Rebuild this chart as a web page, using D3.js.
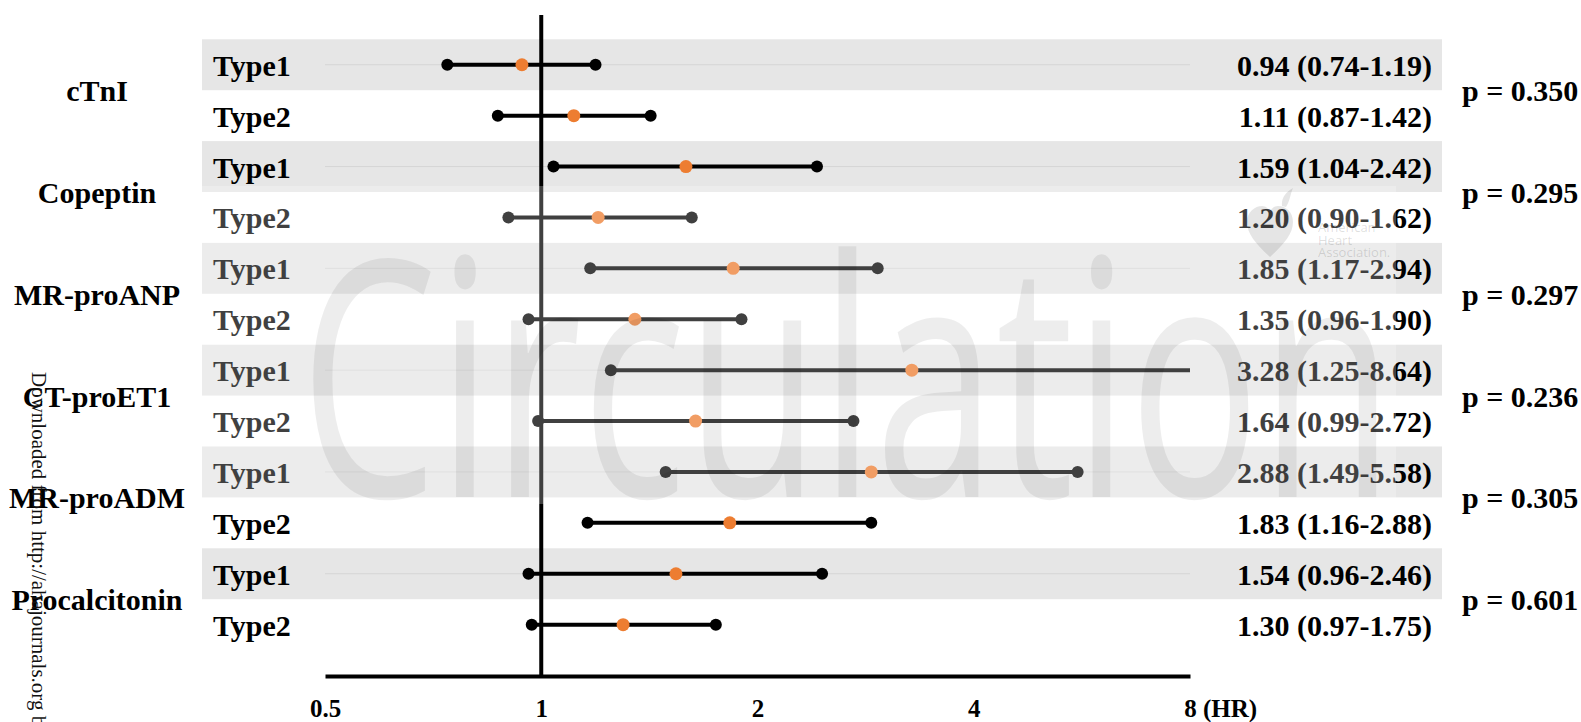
<!DOCTYPE html>
<html>
<head>
<meta charset="utf-8">
<script src="https://cdn.jsdelivr.net/npm/d3@7"></script>
<style>
  html, body { margin: 0; padding: 0; background: #fff; }
  svg { display: block; }
</style>
</head>
<body>
<svg id="chart" width="1581" height="722"></svg>
<script>
// Biomarkers, hazard ratios (95% CI) for Type 1 and Type 2, and interaction p values
const categories = ["cTnI", "Copeptin", "MR-proANP", "CT-proET1", "MR-proADM", "Procalcitonin"];
const groups = ["Type1", "Type2"];

const type1HR = [0.94, 1.59, 1.85, 3.28, 2.88, 1.54];
const type1Lo = [0.74, 1.04, 1.17, 1.25, 1.49, 0.96];
const type1Hi = [1.19, 2.42, 2.94, 8.64, 5.58, 2.46];

const type2HR = [1.11, 1.20, 1.35, 1.64, 1.83, 1.30];
const type2Lo = [0.87, 0.90, 0.96, 0.99, 1.16, 0.97];
const type2Hi = [1.42, 1.62, 1.90, 2.72, 2.88, 1.75];

const pValues = ["0.350", "0.295", "0.297", "0.236", "0.305", "0.601"];

const xTicks = [0.5, 1, 2, 4, 8];
const xTickLabels = ["0.5", "1", "2", "4", "8"];
const axisUnit = "(HR)";

// ---- layout ----
const serif = "'Liberation Serif', 'Times New Roman', Times, serif";
const sans = "'Open Sans', 'Liberation Sans', Arial, sans-serif";
const fontSize = 30;
const axisY = 676;

const svg = d3.select("#chart");

const rows = [];
categories.forEach((cat, i) => {
  rows.push({ cat, group: groups[0], hr: type1HR[i], lo: type1Lo[i], hi: type1Hi[i], ci: i });
  rows.push({ cat, group: groups[1], hr: type2HR[i], lo: type2Lo[i], hi: type2Hi[i], ci: i });
});
rows.forEach((r, i) => r.idx = i);

const x = d3.scaleLog().base(2).domain([0.5, 8]).range([325, 1190]).clamp(true);
const y = d3.scaleBand().domain(d3.range(rows.length)).range([39.3, 650.1]);
const yc = i => y(i) + y.bandwidth() / 2;
const [xMin, xMax] = x.domain();

// shaded bands behind the Type1 rows
svg.append("g").selectAll("rect")
  .data(rows.filter(r => r.group === groups[0]))
  .join("rect")
  .attr("x", 202).attr("width", 1240)
  .attr("y", d => y(d.idx)).attr("height", y.bandwidth())
  .attr("fill", "#e6e6e6");

// faint row guide lines
svg.append("g").selectAll("line")
  .data(rows.filter(r => r.group === groups[0]))
  .join("line")
  .attr("x1", x(xMin)).attr("x2", x(xMax))
  .attr("y1", d => yc(d.idx)).attr("y2", d => yc(d.idx))
  .attr("stroke", "#d5d5d5").attr("stroke-width", 1);

// reference line at HR = 1
svg.append("line")
  .attr("x1", x(1)).attr("x2", x(1))
  .attr("y1", 15).attr("y2", axisY)
  .attr("stroke", "#000").attr("stroke-width", 4);

// x axis
const axis = d3.axisBottom(x)
  .tickValues(xTicks)
  .tickFormat((d, i) => xTickLabels[i])
  .tickSize(0)
  .tickSizeOuter(0)
  .tickPadding(23);

const gAxis = svg.append("g")
  .attr("transform", `translate(0,${axisY})`)
  .call(axis);
gAxis.select(".domain").attr("stroke", "#000").attr("stroke-width", 4);
gAxis.selectAll(".tick text")
  .attr("font-family", serif).attr("font-weight", "bold")
  .attr("font-size", 25).attr("fill", "#000");

svg.append("text")
  .attr("x", x(xMax) + 13).attr("y", axisY + 23)
  .attr("dy", "0.71em")
  .attr("font-family", serif).attr("font-weight", "bold")
  .attr("font-size", 25).attr("fill", "#000")
  .text(axisUnit);

// confidence interval segments
const marks = svg.append("g");
marks.selectAll("line")
  .data(rows)
  .join("line")
  .attr("x1", d => x(d.lo)).attr("x2", d => x(d.hi))
  .attr("y1", d => yc(d.idx)).attr("y2", d => yc(d.idx))
  .attr("stroke", "#000").attr("stroke-width", 4);

// interval end points (an interval running past the axis is left open)
const ends = [];
rows.forEach(r => {
  ends.push({ v: r.lo, idx: r.idx });
  if (r.hi <= xMax) ends.push({ v: r.hi, idx: r.idx });
});
marks.selectAll("circle.end")
  .data(ends)
  .join("circle")
  .attr("class", "end")
  .attr("cx", d => x(d.v)).attr("cy", d => yc(d.idx))
  .attr("r", 6).attr("fill", "#000");

// point estimates
marks.selectAll("circle.hr")
  .data(rows)
  .join("circle")
  .attr("class", "hr")
  .attr("cx", d => x(d.hr)).attr("cy", d => yc(d.idx))
  .attr("r", 6.5).attr("fill", "#ED7D31");

// text columns
const label = (sel) => sel
  .attr("font-family", serif).attr("font-weight", "bold")
  .attr("font-size", fontSize).attr("fill", "#000");

svg.append("g").selectAll("text")
  .data(rows).join("text")
  .attr("x", 213).attr("y", d => yc(d.idx) + 11)
  .call(label)
  .text(d => d.group);

svg.append("g").selectAll("text")
  .data(rows).join("text")
  .attr("x", 1432).attr("y", d => yc(d.idx) + 11)
  .attr("text-anchor", "end")
  .call(label)
  .text(d => `${d.hr.toFixed(2)} (${d.lo.toFixed(2)}-${d.hi.toFixed(2)})`);

const pairMid = i => (yc(2 * i) + yc(2 * i + 1)) / 2;

svg.append("g").selectAll("text")
  .data(categories).join("text")
  .attr("x", 97).attr("y", (d, i) => pairMid(i) + 11)
  .attr("text-anchor", "middle")
  .call(label)
  .text(d => d);

svg.append("g").selectAll("text")
  .data(pValues).join("text")
  .attr("x", 1462).attr("y", (d, i) => pairMid(i) + 11)
  .call(label)
  .text(d => `p = ${d}`);

// journal watermark laid over the figure
const wm = svg.append("g").attr("pointer-events", "none");
wm.append("rect")
  .attr("x", 202).attr("y", 186).attr("width", 1194).attr("height", 318)
  .attr("fill", "#fff").attr("fill-opacity", 0.25);

wm.append("text")
  .attr("x", 300).attr("y", 497)
  .attr("font-family", sans).attr("font-weight", 400)
  .attr("font-size", 330)
  .attr("textLength", 1094).attr("lengthAdjust", "spacingAndGlyphs")
  .attr("fill", "#000").attr("fill-opacity", 0.07)
  .text("Circulation");

// society logo mark
wm.append("path")
  .attr("d", "M1270,257 C1256,244 1247,234 1247,222 C1247,212 1255,206 1262,206 C1266,206 1269,209 1270,212 C1271,209 1274,206 1278,206 C1286,206 1293,212 1293,222 C1293,234 1284,244 1270,257 Z M1282,206 C1281,198 1286,192 1293,188 C1290,195 1290,201 1286,207 Z")
  .attr("fill", "#000").attr("fill-opacity", 0.1);

["American", "Heart", "Association."].forEach((t, i) => {
  wm.append("text")
    .attr("x", 1318).attr("y", 232 + i * 12.5)
    .attr("font-family", sans).attr("font-size", 13)
    .attr("fill", "#000").attr("fill-opacity", 0.14)
    .text(t);
});

wm.append("text")
  .attr("transform", "translate(32,372) rotate(90)")
  .attr("font-family", serif).attr("font-size", 21)
  .attr("fill", "#111")
  .text("Downloaded from http://ahajournals.org by");
</script>
</body>
</html>
